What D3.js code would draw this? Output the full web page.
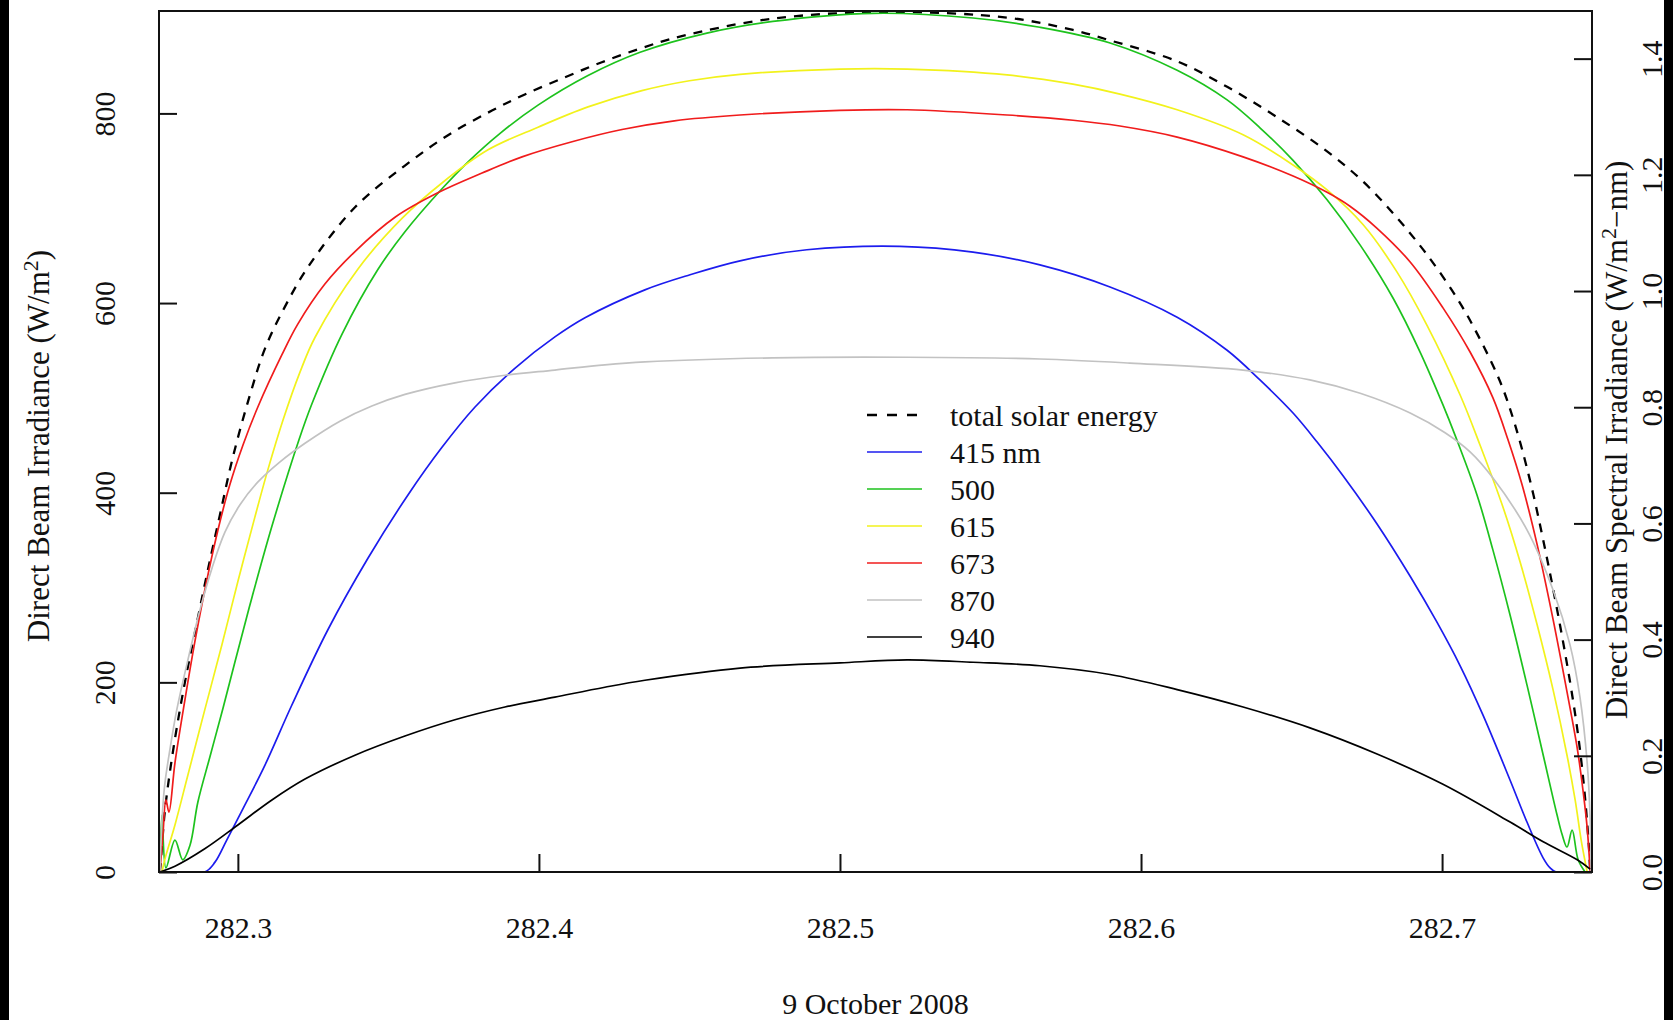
<!DOCTYPE html>
<html>
<head>
<meta charset="utf-8">
<script src="https://cdn.jsdelivr.net/npm/d3@7"></script>
<style>
  body { margin: 0; background: #fff; }
  svg { display: block; font-family: "Liberation Serif", "Times New Roman", serif; }
</style>
</head>
<body>
<div id="chart"></div>
<script>
'use strict';

// day of year, 9 October 2008 = 282
const xTicks = [282.3, 282.4, 282.5, 282.6, 282.7];
const leftTicks = [0, 200, 400, 600, 800];
const rightTicks = [0, 0.2, 0.4, 0.6, 0.8, 1.0, 1.2, 1.4];

// total solar energy, W/m^2 (left axis)
const total = [[282.2741,0],[282.2748,28],[282.2757,63],[282.2774,105],[282.2797,152],[282.2827,205],
    [282.2864,263],[282.2900,318],[282.2940,376],[282.2983,437],[282.3040,503],[282.3090,552],
    [282.3156,596],[282.3233,638],[282.3389,701],[282.3555,745],[282.3698,777],[282.3844,803],
    [282.3953,820],[282.4086,838],[282.4209,854],[282.4342,869],[282.4468,881],[282.4777,900],
    [282.5166,907],[282.5555,901],[282.5774,888],[282.5897,877],[282.6120,855],[282.6286,828],
    [282.6452,796],[282.6618,760],[282.6738,728],[282.6850,690],[282.6950,651],[282.7050,605],
    [282.7116,568],[282.7193,517],[282.7243,471],[282.7292,413],[282.7336,350],[282.7392,260],
    [282.7435,181],[282.7458,129],[282.7475,78],[282.7488,25],[282.7492,0]];

// spectral channels, W/m^2-nm (right axis)
const nm415 = [[282.2741,0],[282.2890,0],[282.2924,0.017],[282.2963,0.055],[282.3023,0.115],[282.3090,0.184],
    [282.3179,0.287],[282.3299,0.417],[282.3432,0.540],[282.3565,0.649],[282.3678,0.731],[282.3787,0.800],
    [282.3920,0.867],[282.4053,0.921],[282.4153,0.954],[282.4352,1.002],[282.4502,1.028],[282.4668,1.052],
    [282.4890,1.071],[282.5199,1.077],[282.5442,1.067],[282.5664,1.045],[282.5897,1.007],[282.6120,0.955],
    [282.6286,0.898],[282.6395,0.847],[282.6505,0.790],[282.6585,0.740],[282.6671,0.682],[282.6784,0.599],
    [282.6894,0.509],[282.6983,0.430],[282.7060,0.355],[282.7136,0.270],[282.7226,0.158],[282.7282,0.086],
    [282.7336,0.024],[282.7359,0.007],[282.7379,0],[282.7492,0]];

const nm500 = [[282.2741,0],[282.2748,0.098],[282.2761,0.007],[282.2791,0.055],[282.2817,0.021],[282.2841,0.046],
    [282.2867,0.120],[282.2907,0.198],[282.2947,0.275],[282.2990,0.361],[282.3047,0.473],[282.3113,0.595],
    [282.3203,0.744],[282.3246,0.806],[282.3346,0.926],[282.3465,1.037],[282.3555,1.102],[282.3678,1.176],
    [282.3764,1.222],[282.3870,1.271],[282.3997,1.320],[282.4163,1.371],[282.4336,1.411],[282.4558,1.444],
    [282.4777,1.464],[282.5110,1.478],[282.5442,1.470],[282.5664,1.454],[282.5897,1.427],[282.6120,1.380],
    [282.6286,1.329],[282.6395,1.281],[282.6505,1.225],[282.6618,1.157],[282.6728,1.079],[282.6837,0.988],
    [282.6927,0.895],[282.7003,0.804],[282.7043,0.752],[282.7116,0.649],[282.7169,0.554],[282.7226,0.442],
    [282.7282,0.322],[282.7336,0.201],[282.7382,0.098],[282.7399,0.064],[282.7415,0.043],[282.7432,0.072],
    [282.7452,0.021],[282.7475,0]];

const nm615 = [[282.2748,0],[282.2757,0.021],[282.2791,0.081],[282.2834,0.167],[282.2890,0.279],[282.2947,0.391],
    [282.3000,0.500],[282.3056,0.610],[282.3100,0.693],[282.3150,0.778],[282.3206,0.860],[282.3256,0.920],
    [282.3399,1.038],[282.3545,1.125],[282.3678,1.186],[282.3831,1.243],[282.3997,1.282],[282.4163,1.317],
    [282.4342,1.345],[282.4500,1.362],[282.4668,1.373],[282.5000,1.382],[282.5223,1.382],[282.5555,1.372],
    [282.5774,1.356],[282.5930,1.339],[282.6120,1.312],[282.6339,1.269],[282.6505,1.217],[282.6618,1.174],
    [282.6738,1.114],[282.6850,1.033],[282.6950,0.941],[282.7060,0.821],[282.7126,0.735],[282.7203,0.627],
    [282.7259,0.534],[282.7316,0.425],[282.7369,0.313],[282.7415,0.201],[282.7442,0.124],[282.7462,0.055],
    [282.7482,0]];

const nm673 = [[282.2741,0],[282.2751,0.064],[282.2761,0.124],[282.2771,0.103],[282.2791,0.188],[282.2824,0.296],
    [282.2857,0.396],[282.2890,0.485],[282.2934,0.589],[282.2973,0.666],[282.3017,0.735],[282.3066,0.800],
    [282.3146,0.890],[282.3199,0.943],[282.3289,1.012],[282.3389,1.068],[282.3522,1.127],[282.3664,1.169],
    [282.3811,1.203],[282.3944,1.231],[282.4110,1.257],[282.4276,1.278],[282.4450,1.293],[282.4668,1.303],
    [282.5000,1.311],[282.5223,1.312],[282.5555,1.303],[282.5774,1.294],[282.5930,1.284],[282.6120,1.265],
    [282.6339,1.231],[282.6505,1.198],[282.6618,1.170],[282.6694,1.146],[282.6784,1.108],[282.6894,1.050],
    [282.7003,0.971],[282.7093,0.895],[282.7169,0.816],[282.7219,0.744],[282.7266,0.666],[282.7316,0.563],
    [282.7369,0.434],[282.7415,0.310],[282.7449,0.213],[282.7468,0.141],[282.7482,0.076],[282.7492,0]];

const nm870 = [[282.2741,0],[282.2748,0.090],[282.2757,0.150],[282.2774,0.210],[282.2797,0.279],[282.2834,0.365],
    [282.2874,0.451],[282.2914,0.523],[282.2957,0.585],[282.3007,0.632],[282.3066,0.671],[282.3140,0.706],
    [282.3223,0.738],[282.3339,0.776],[282.3445,0.802],[282.3555,0.822],[282.3721,0.842],[282.3887,0.855],
    [282.4053,0.864],[282.4219,0.873],[282.4352,0.878],[282.4777,0.885],[282.5223,0.886],[282.5664,0.883],
    [282.5963,0.876],[282.6339,0.864],[282.6561,0.847],[282.6728,0.824],[282.6894,0.790],[282.7010,0.756],
    [282.7093,0.723],[282.7169,0.678],[282.7282,0.589],[282.7369,0.485],[282.7425,0.391],[282.7458,0.301],
    [282.7482,0.188],[282.7492,0.090],[282.7495,0]];

const nm940 = [[282.2741,0],[282.2791,0.010],[282.2890,0.040],[282.3000,0.081],[282.3113,0.124],[282.3223,0.160],
    [282.3389,0.201],[282.3555,0.234],[282.3721,0.262],[282.3887,0.284],[282.4053,0.301],[282.4219,0.318],
    [282.4352,0.330],[282.4668,0.351],[282.5000,0.360],[282.5223,0.365],[282.5442,0.361],[282.5664,0.355],
    [282.5897,0.340],[282.6120,0.314],[282.6339,0.284],[282.6561,0.248],[282.6784,0.203],[282.7003,0.151],
    [282.7226,0.086],[282.7336,0.052],[282.7449,0.021],[282.7492,0.005]];

const seriesNames = ["total solar energy", "415 nm", "500", "615", "673", "870", "940"];
const seriesColors = ["#000000", "#1c1cee", "#1dc21d", "#f2f21c", "#f01c1c", "#c2c2c2", "#000000"];

const W = 1673, H = 1020;
const box = {left: 159, right: 1592, top: 11, bottom: 872};

const x = d3.scaleLinear().domain([282.2738, 282.7498]).range([box.left, box.right]);
const yL = d3.scaleLinear().domain([0, 908]).range([box.bottom, box.top]);
const yR = d3.scaleLinear().domain([0, 1.482]).range([box.bottom, box.top]);

const svg = d3.select("#chart").append("svg")
    .attr("width", W)
    .attr("height", H);

svg.append("rect").attr("width", W).attr("height", H).attr("fill", "#fff");
// dark strips at the image edges
svg.append("rect").attr("x", 0).attr("y", 0).attr("width", 9).attr("height", H).attr("fill", "#000");
svg.append("rect").attr("x", 1664).attr("y", 0).attr("width", 9).attr("height", H).attr("fill", "#000");

svg.append("clipPath").attr("id", "plot-clip")
    .append("rect")
    .attr("x", box.left).attr("y", box.top)
    .attr("width", box.right - box.left).attr("height", box.bottom - box.top);

// lines
const curve = d3.curveCatmullRom.alpha(0.5);
const lineL = d3.line().x(d => x(d[0])).y(d => yL(d[1])).curve(curve);
const lineR = d3.line().x(d => x(d[0])).y(d => yR(d[1])).curve(curve);

const plot = svg.append("g").attr("fill", "none").attr("clip-path", "url(#plot-clip)");

plot.append("path")
    .attr("d", lineL(total))
    .attr("stroke", seriesColors[0])
    .attr("stroke-width", 2.3)
    .attr("stroke-dasharray", "9,8");

const spectral = [nm415, nm500, nm615, nm673, nm870, nm940];
plot.selectAll(".spec")
    .data(spectral)
    .enter().append("path")
    .attr("class", "spec")
    .attr("d", d => lineR(d))
    .attr("stroke", (d, i) => seriesColors[i + 1])
    .attr("stroke-width", 1.7)
    .attr("stroke-linejoin", "round");

// box
svg.append("rect")
    .attr("x", box.left).attr("y", box.top)
    .attr("width", box.right - box.left).attr("height", box.bottom - box.top)
    .attr("fill", "none").attr("stroke", "#111").attr("stroke-width", 2);

function styleAxis(g) {
    g.select(".domain").remove();
    g.attr("font-family", null).attr("font-size", 30);
    g.selectAll(".tick line").attr("stroke", "#111").attr("stroke-width", 2);
    g.selectAll(".tick text").attr("fill", "#111").attr("dy", null);
}

// bottom axis
svg.append("g")
    .attr("transform", `translate(0,${box.bottom})`)
    .call(d3.axisBottom(x).tickValues(xTicks).tickSizeInner(-18).tickSizeOuter(0).tickFormat(d3.format(".1f")))
    .call(styleAxis)
    .call(g => g.selectAll(".tick text").attr("y", 66));

// left axis
svg.append("g")
    .attr("transform", `translate(${box.left},0)`)
    .call(d3.axisLeft(yL).tickValues(leftTicks).tickSizeInner(-18).tickSizeOuter(0))
    .call(styleAxis)
    .call(g => g.selectAll(".tick text")
        .attr("transform", "rotate(-90)")
        .attr("x", 0).attr("y", -44)
        .attr("text-anchor", "middle"));

// right axis
svg.append("g")
    .attr("transform", `translate(${box.right},0)`)
    .call(d3.axisRight(yR).tickValues(rightTicks).tickSizeInner(-18).tickSizeOuter(0).tickFormat(d3.format(".1f")))
    .call(styleAxis)
    .call(g => g.selectAll(".tick text")
        .attr("transform", "rotate(-90)")
        .attr("x", 0).attr("y", 70)
        .attr("text-anchor", "middle"));

// axis titles
const titles = svg.append("g").attr("font-size", 31).attr("fill", "#111").attr("text-anchor", "middle");

titles.append("text")
    .attr("x", (box.left + box.right) / 2)
    .attr("y", 1014)
    .attr("font-size", 30)
    .text("9 October 2008");

const lt = titles.append("text").attr("transform", "translate(49,446) rotate(-90)");
lt.append("tspan").text("Direct Beam Irradiance (W/m");
lt.append("tspan").attr("dy", -11).attr("font-size", 22).text("2");
lt.append("tspan").attr("dy", 11).text(")");

const rt = titles.append("text").attr("transform", "translate(1627,440) rotate(-90)");
rt.append("tspan").text("Direct Beam Spectral Irradiance (W/m");
rt.append("tspan").attr("dy", -11).attr("font-size", 22).text("2");
rt.append("tspan").attr("dy", 11).text("\u2212nm)");

// legend
const legendItems = seriesNames.map((name, i) => ({name: name, color: seriesColors[i], dashed: i === 0}));
const legend = svg.append("g").attr("transform", "translate(867,415)");
const row = legend.selectAll(".row")
    .data(legendItems)
    .enter().append("g")
    .attr("class", "row")
    .attr("transform", (d, i) => `translate(0,${i * 37})`);

row.append("line")
    .attr("x1", 0).attr("x2", 55)
    .attr("stroke", d => d.color)
    .attr("stroke-width", d => d.dashed ? 2.3 : 1.7)
    .attr("stroke-dasharray", d => d.dashed ? "10,10" : null);

row.append("text")
    .attr("x", 83)
    .attr("dy", "0.35em")
    .attr("font-size", 30)
    .attr("fill", "#111")
    .text(d => d.name);
</script>
</body>
</html>
